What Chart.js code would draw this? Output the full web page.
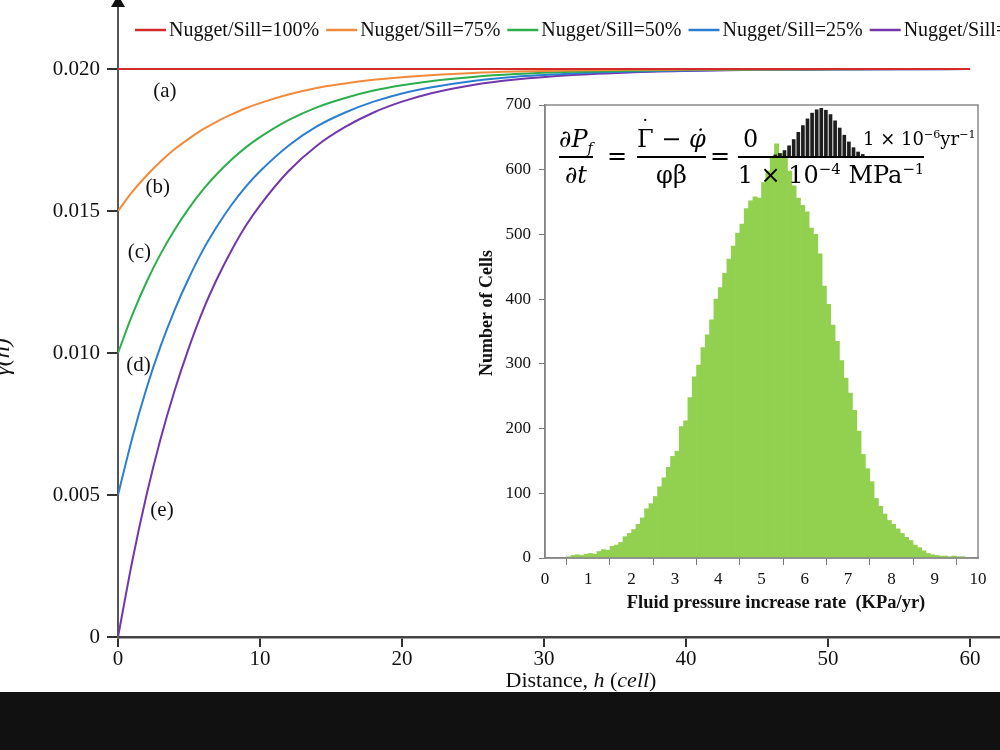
<!DOCTYPE html>
<html lang="en">
<head>
<meta charset="UTF-8">
<script src="https://cdn.jsdelivr.net/npm/chart.js@4.4.0/dist/chart.umd.min.js"></script>
<style>
    html, body { margin: 0; padding: 0; background: #111; }
    #page { position: relative; width: 1000px; height: 692px; background: #fff; overflow: hidden; }
    #mainCanvas { position: absolute; left: 0; top: 0; }
    #insetCanvas { position: absolute; left: 470px; top: 95px; }
    #formula { position: absolute; left: 0; top: 0; width: 1000px; height: 200px; font-family: "DejaVu Serif", serif; color: #000; }
    .frac { position: absolute; display: flex; flex-direction: column; align-items: center; font-size: 24px; }
    .frac .num, .frac .den { height: 34px; line-height: 34px; white-space: nowrap; position: relative; }
    .frac .bar { align-self: stretch; height: 2px; background: #000; }
    .eq { position: absolute; font-size: 24px; line-height: 34px; }
    sup { font-size: 0.62em; vertical-align: 0.6em; line-height: 0; }
    i { font-style: italic; }
    .dotted { position: relative; display: inline-block; }
    .dotted .dot { position: absolute; left: 0; right: 0; top: -12px; text-align: center; font-size: 20px; }
    #miniBox { position: absolute; left: 35px; bottom: 0; width: 92px; height: 48px; }
</style>
<title>Semivariogram and fluid pressure histogram</title>
</head>
<body>
<div id="page">
    <canvas id="mainCanvas" width="1000" height="692"></canvas>
    <canvas id="insetCanvas" width="525" height="525"></canvas>
    <div id="formula">
        <div class="frac" style="left:559px; top:122px;">
            <div class="num">∂<i>P</i><sub style="font-size:0.6em; font-style:italic;">f</sub></div>
            <div class="bar"></div>
            <div class="den">∂<i>t</i></div>
        </div>
        <div class="eq" style="left:607px; top:139px;">=</div>
        <div class="frac" style="left:637px; top:122px;">
            <div class="num"><span class="dotted">Γ<span class="dot">˙</span></span> − <i>φ̇</i></div>
            <div class="bar"></div>
            <div class="den">φβ</div>
        </div>
        <div class="eq" style="left:710px; top:139px;">=</div>
        <div class="frac" style="left:738px; top:122px; width:186px;">
            <div class="num" style="width:186px;">
                <span style="position:absolute; left:5px;">0</span>
                <div id="miniBox"><canvas id="miniCanvas" width="92" height="48"></canvas></div>
                <span style="position:absolute; left:125px; font-size:18px;">1 × 10<sup>−6</sup>yr<sup>−1</sup></span>
            </div>
            <div class="bar"></div>
            <div class="den">1 × 10<sup>−4</sup> MPa<sup>−1</sup></div>
        </div>
    </div>
</div>

<script>
    // main chart: semivariogram curves
    const hValues = [0, 1, 2, 3, 4, 5, 6, 7, 8, 9, 10, 12, 14, 16, 18, 20, 22, 25, 28, 32, 36, 40, 45, 50, 55, 60];
    const gamma100 = [0.0200, 0.0200, 0.0200, 0.0200, 0.0200, 0.0200, 0.0200, 0.0200, 0.0200, 0.0200, 0.0200, 0.0200, 0.0200,
        0.0200, 0.0200, 0.0200, 0.0200, 0.0200, 0.0200, 0.0200, 0.0200, 0.0200, 0.0200, 0.0200, 0.0200, 0.0200];
    const gamma75 = [0.0150, 0.01567, 0.01624, 0.01674, 0.01718, 0.01755, 0.01788, 0.01816, 0.01840, 0.01862, 0.01880, 0.01910, 0.01933,
        0.01949, 0.01962, 0.01971, 0.01978, 0.01986, 0.01991, 0.01995, 0.01997, 0.01998, 0.01999, 0.0200, 0.0200, 0.0200];
    const gamma50 = [0.0100, 0.01133, 0.01249, 0.01349, 0.01435, 0.01510, 0.01576, 0.01632, 0.01681, 0.01724, 0.01760, 0.01820, 0.01865,
        0.01898, 0.01924, 0.01943, 0.01957, 0.01972, 0.01982, 0.01990, 0.01994, 0.01997, 0.01998, 0.01999, 0.0200, 0.0200];
    const gamma25 = [0.0050, 0.00700, 0.00874, 0.01024, 0.01153, 0.01265, 0.01364, 0.01448, 0.01522, 0.01586, 0.01640, 0.01730, 0.01798,
        0.01847, 0.01885, 0.01914, 0.01935, 0.01958, 0.01973, 0.01984, 0.01991, 0.01995, 0.01998, 0.01999, 0.01999, 0.0200];
    const gamma0 = [0, 0.00266, 0.00498, 0.00698, 0.00870, 0.01020, 0.01152, 0.01264, 0.01362, 0.01448, 0.01520, 0.01640, 0.01730,
        0.01796, 0.01847, 0.01885, 0.01914, 0.01944, 0.01963, 0.01979, 0.01988, 0.01993, 0.01997, 0.01998, 0.01999, 0.0200];

    const seriesLabels = ['Nugget/Sill=100%', 'Nugget/Sill=75%', 'Nugget/Sill=50%', 'Nugget/Sill=25%', 'Nugget/Sill=0%'];
    const seriesColors = ['#d42a2a', '#f28a3b', '#2cae4c', '#2b7fd1', '#7436ad'];
    const curveTags = ['(a)', '(b)', '(c)', '(d)', '(e)'];
    const tagH = [3.3, 2.8, 1.5, 1.45, 3.1];
    const tagGamma = [0.01920, 0.01582, 0.01354, 0.00956, 0.00446];

    const xTickValues = [0, 10, 20, 30, 40, 50, 60];
    const yTickValues = [0, 0.005, 0.010, 0.015, 0.020];

    // inset chart: histogram of fluid pressure increase rate
    const binCenters = [0.55, 0.65, 0.75, 0.85, 0.95, 1.05, 1.15, 1.25, 1.35, 1.45,
        1.55, 1.65, 1.75, 1.85, 1.95, 2.05, 2.15, 2.25, 2.35, 2.45,
        2.55, 2.65, 2.75, 2.85, 2.95, 3.05, 3.15, 3.25, 3.35, 3.45,
        3.55, 3.65, 3.75, 3.85, 3.95, 4.05, 4.15, 4.25, 4.35, 4.45,
        4.55, 4.65, 4.75, 4.85, 4.95, 5.05, 5.15, 5.25, 5.35, 5.45,
        5.55, 5.65, 5.75, 5.85, 5.95, 6.05, 6.15, 6.25, 6.35, 6.45,
        6.55, 6.65, 6.75, 6.85, 6.95, 7.05, 7.15, 7.25, 7.35, 7.45,
        7.55, 7.65, 7.75, 7.85, 7.95, 8.05, 8.15, 8.25, 8.35, 8.45,
        8.55, 8.65, 8.75, 8.85, 8.95, 9.05, 9.15, 9.25, 9.35, 9.45,
        9.55, 9.65, 9.75];
    const cellCounts = [2, 4, 5, 4, 6, 7, 6, 10, 13, 12,
        18, 20, 24, 33, 38, 44, 52, 62, 76, 84,
        95, 110, 124, 140, 157, 165, 203, 212, 248, 280,
        298, 325, 345, 368, 400, 418, 440, 462, 482, 502,
        516, 540, 552, 558, 556, 580, 598, 620, 640, 625,
        618, 598, 575, 556, 545, 535, 510, 500, 470, 420,
        392, 360, 335, 305, 278, 255, 228, 196, 160, 138,
        118, 92, 80, 68, 58, 52, 45, 38, 32, 27,
        20, 16, 11, 7, 5, 4, 3, 3, 2, 3,
        2, 2, 1];

    // small black histogram inside the formula
    const miniCounts = [3, 6, 12, 22, 35, 50, 64, 78, 90, 97, 100, 96, 87, 74, 59, 44, 30, 18, 9, 4];

    const serif = '"Liberation Serif", "Times New Roman", serif';

    function noPad(s) {
        s.paddingTop = 0;
        s.paddingBottom = 0;
        s.paddingLeft = 0;
        s.paddingRight = 0;
    }

    const mainDecor = {
        id: 'mainDecor',
        afterDraw(chart) {
            const { ctx, scales } = chart;
            const x0 = scales.x.getPixelForValue(0);
            ctx.save();

            // arrow on y axis
            ctx.fillStyle = '#111';
            ctx.beginPath();
            ctx.moveTo(x0, -5);
            ctx.lineTo(x0 - 7, 7);
            ctx.lineTo(x0 + 7, 7);
            ctx.closePath();
            ctx.fill();

            // legend
            ctx.font = '20px ' + serif;
            ctx.textBaseline = 'middle';
            ctx.textAlign = 'left';
            let lx = 135;
            seriesLabels.forEach((lab, i) => {
                ctx.strokeStyle = seriesColors[i];
                ctx.lineWidth = 2.5;
                ctx.beginPath();
                ctx.moveTo(lx, 30);
                ctx.lineTo(lx + 31, 30);
                ctx.stroke();
                ctx.fillStyle = '#111';
                ctx.fillText(lab, lx + 34, 31);
                lx += 34 + ctx.measureText(lab).width + 7;
            });

            // curve tags
            ctx.font = '21px ' + serif;
            ctx.textAlign = 'center';
            curveTags.forEach((t, i) => {
                ctx.fillText(t, scales.x.getPixelForValue(tagH[i]), scales.y.getPixelForValue(tagGamma[i]));
            });

            // x title
            const parts = [['Distance, ', ''], ['h', 'italic '], [' (', ''], ['cell', 'italic '], [')', '']];
            let total = 0;
            parts.forEach(p => { ctx.font = p[1] + '22px ' + serif; total += ctx.measureText(p[0]).width; });
            let tx = 581 - total / 2;
            ctx.textAlign = 'left';
            parts.forEach(p => {
                ctx.font = p[1] + '22px ' + serif;
                ctx.fillText(p[0], tx, 681);
                tx += ctx.measureText(p[0]).width;
            });

            // y title (clipped at the left edge)
            ctx.translate(3, 357);
            ctx.rotate(-Math.PI / 2);
            ctx.textAlign = 'center';
            ctx.font = 'italic 24px ' + serif;
            ctx.fillText('γ(h)', 0, 0);
            ctx.restore();
        }
    };

    new Chart(document.getElementById('mainCanvas'), {
        type: 'line',
        data: {
            datasets: [gamma100, gamma75, gamma50, gamma25, gamma0].map((arr, i) => ({
                label: seriesLabels[i],
                data: hValues.map((h, k) => ({ x: h, y: arr[k] })),
                borderColor: seriesColors[i],
                borderWidth: 2,
                pointRadius: 0,
                cubicInterpolationMode: 'monotone',
                fill: false
            }))
        },
        options: {
            responsive: false,
            animation: false,
            layout: { padding: 0 },
            plugins: { legend: { display: false }, tooltip: { enabled: false } },
            scales: {
                x: {
                    type: 'linear',
                    min: 0,
                    max: 62.11,
                    afterBuildTicks: s => { s.ticks = xTickValues.map(v => ({ value: v })); },
                    afterFit: s => { s.height = 55; noPad(s); },
                    ticks: { color: '#111', font: { family: serif, size: 21 }, padding: 0, maxRotation: 0 },
                    grid: { drawOnChartArea: false, tickLength: 10, color: '#333', lineWidth: 2 },
                    border: { color: '#444', width: 2.5 }
                },
                y: {
                    type: 'linear',
                    min: 0,
                    max: 0.02243,
                    afterBuildTicks: s => { s.ticks = yTickValues.map(v => ({ value: v })); },
                    afterFit: s => { s.width = 118; noPad(s); },
                    ticks: {
                        color: '#111',
                        font: { family: serif, size: 21 },
                        padding: 7,
                        callback: v => v === 0 ? '0' : v.toFixed(3)
                    },
                    grid: { drawOnChartArea: false, tickLength: 11, color: '#333', lineWidth: 2 },
                    border: { color: '#555', width: 2 }
                }
            }
        },
        plugins: [mainDecor]
    });

    const insetDecor = {
        id: 'insetDecor',
        afterDraw(chart) {
            const { ctx, chartArea } = chart;
            ctx.save();
            ctx.strokeStyle = '#8a8a8a';
            ctx.lineWidth = 1.5;
            ctx.strokeRect(chartArea.left, chartArea.top, chartArea.right - chartArea.left, chartArea.bottom - chartArea.top);

            ctx.fillStyle = '#111';
            ctx.font = 'bold 18.5px ' + serif;
            ctx.textAlign = 'center';
            ctx.textBaseline = 'middle';
            ctx.fillText('Fluid pressure increase rate  (KPa/yr)', 306, 508);

            ctx.translate(17, 218);
            ctx.rotate(-Math.PI / 2);
            ctx.font = 'bold 18px ' + serif;
            ctx.fillText('Number of Cells', 0, 0);
            ctx.restore();
        }
    };

    new Chart(document.getElementById('insetCanvas'), {
        type: 'bar',
        data: {
            datasets: [{
                label: 'Number of Cells',
                data: binCenters.map((c, i) => ({ x: c, y: cellCounts[i] })),
                backgroundColor: '#92d050',
                borderColor: '#92d050',
                borderWidth: 0,
                barPercentage: 1,
                categoryPercentage: 1
            }]
        },
        options: {
            responsive: false,
            animation: false,
            layout: { padding: { top: 10, right: 17, left: 0, bottom: 0 } },
            plugins: { legend: { display: false }, tooltip: { enabled: false } },
            scales: {
                x: {
                    type: 'linear',
                    min: 0,
                    max: 10,
                    offset: false,
                    afterFit: s => { s.height = 62; noPad(s); },
                    ticks: { stepSize: 1, color: '#111', font: { family: serif, size: 17 }, padding: 4, maxRotation: 0, autoSkip: false },
                    grid: { drawOnChartArea: false, tickLength: 7, color: '#777' },
                    border: { color: '#777', width: 1.5 }
                },
                y: {
                    min: 0,
                    max: 700,
                    afterFit: s => { s.width = 75; noPad(s); },
                    ticks: { stepSize: 100, color: '#111', font: { family: serif, size: 17 }, padding: 8 },
                    grid: { drawOnChartArea: false, tickLength: 6, color: '#777' },
                    border: { color: '#777', width: 1.5 }
                }
            }
        },
        plugins: [insetDecor]
    });

    new Chart(document.getElementById('miniCanvas'), {
        type: 'bar',
        data: {
            labels: miniCounts.map((_, i) => i + 1),
            datasets: [{ data: miniCounts, backgroundColor: '#1e1e1e', barPercentage: 0.8, categoryPercentage: 1 }]
        },
        options: {
            responsive: false,
            animation: false,
            layout: { padding: 0 },
            plugins: { legend: { display: false }, tooltip: { enabled: false } },
            scales: {
                x: { display: false, offset: true },
                y: { display: false, min: 0, max: 100 }
            }
        }
    });
</script>
</body>
</html>
